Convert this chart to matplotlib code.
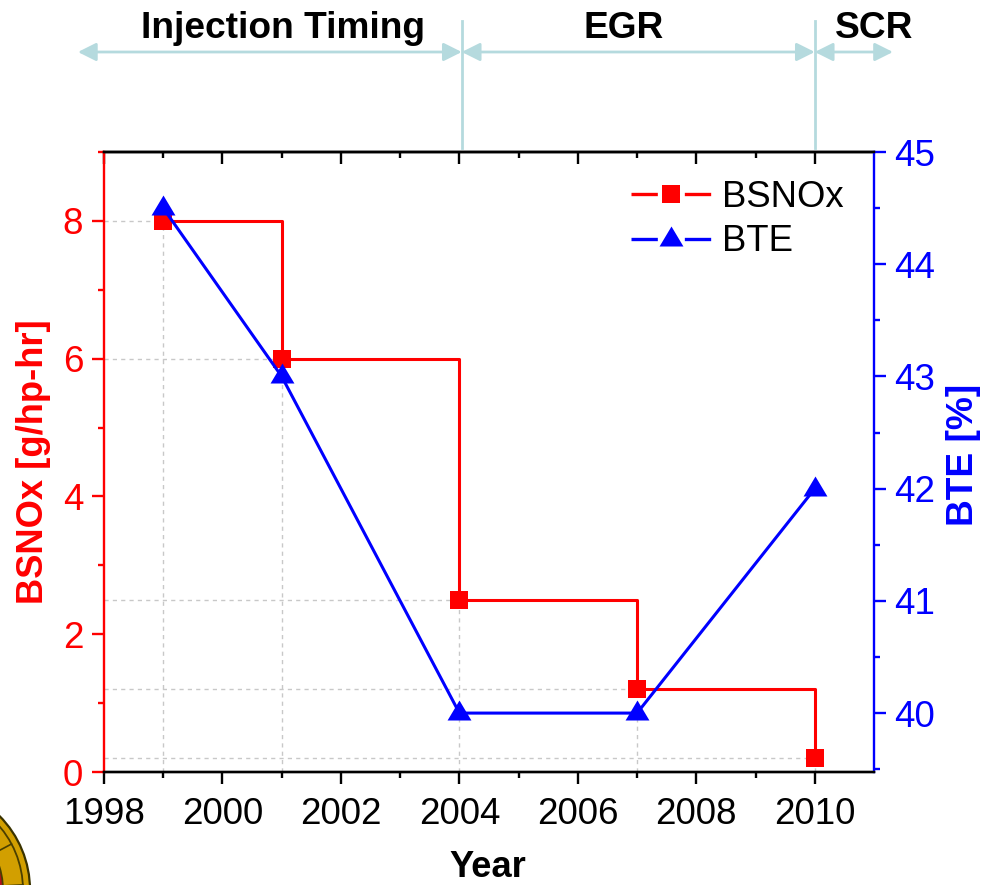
import numpy as np
import matplotlib
matplotlib.use("Agg")
import matplotlib.pyplot as plt
from matplotlib.patches import Circle
from matplotlib.transforms import blended_transform_factory

plt.rcParams['font.family'] = ['Liberation Sans', 'DejaVu Sans']

years = [1999, 2001, 2004, 2007, 2010]
bsnox = [8, 6, 2.5, 1.2, 0.2]
bte = [44.5, 43, 40, 40, 42]
phase_names = ['Injection Timing', 'EGR', 'SCR']
phase_label_x = [2001.02, 2006.78, 2011.0]
phase_edges = [1997.56, 2004.04, 2010.0, 2011.32]
x_ticks = [1998, 2000, 2002, 2004, 2006, 2008, 2010]
x_minor = [1999, 2001, 2003, 2005, 2007, 2009]
left_ticks = [0, 2, 4, 6, 8]
left_minor = [1, 3, 5, 7, 9]
right_ticks = [40, 41, 42, 43, 44, 45]
right_minor = [39.5, 40.5, 41.5, 42.5, 43.5, 44.5]

W, H = 981, 885
fig = plt.figure(figsize=(W / 100, H / 100), dpi=100)
ax = fig.add_axes([104 / W, 1 - 772 / H, 770 / W, 620 / H])
ax2 = ax.twinx()
ax.set_xlim(1998, 2011)
ax.set_ylim(0, 8.985)
ax2.set_ylim(39.475, 45)

RED, BLUE, GLINE, PALE = '#ff0000', '#0000ff', '#c8c8c8', '#b5dade'
TRI = [(-0.92, -0.54), (0.92, -0.54), (0, 1)]
FS = 26.5

# drop lines
for x, y in zip(years, bsnox):
    ax.plot([1998, x], [y, y], color=GLINE, lw=1, ls=(0, (3, 3)), zorder=1)
    ax.plot([x, x], [0, y], color=GLINE, lw=1, ls=(0, (3, 3)), zorder=1)

ax.step(years, bsnox, where='post', color=RED, lw=2.2, zorder=3)
ax.plot(years, bsnox, ls='none', marker='s', ms=12.3, mew=0, color=RED, zorder=4, clip_on=False)
ax2.plot(years, bte, color=BLUE, lw=2.2, marker=TRI, ms=18.7, mew=0, zorder=5, clip_on=False)
ax.set_zorder(2)
ax2.set_zorder(3)
ax2.patch.set_visible(False)

# spines
for s in ('left', 'right', 'top', 'bottom'):
    ax.spines[s].set_linewidth(1.7)
    ax2.spines[s].set_linewidth(1.7)
ax.spines['left'].set_color(RED)
ax2.spines['left'].set_visible(False)
ax.spines['right'].set_visible(False)
ax2.spines['right'].set_color(BLUE)

ax.set_xticks(x_ticks)
ax.set_xticks(x_minor, minor=True)
ax.tick_params(axis='x', which='major', length=8.5, width=1.7, labelsize=FS, pad=9.5, color='black')
ax.tick_params(axis='x', which='minor', length=4.5, width=1.7, color='black')
top = ax.secondary_xaxis('top')
top.set_xticks(x_ticks)
top.set_xticks(x_minor, minor=True)
top.tick_params(axis='x', which='major', direction='in', length=8.5, width=1.7, labelsize=0, labeltop=False)
top.tick_params(axis='x', which='minor', direction='in', length=4.5, width=1.7)
top.spines['top'].set_linewidth(1.7)

ax.set_yticks(left_ticks)
ax.set_yticks(left_minor, minor=True)
ax.tick_params(axis='y', which='major', length=8.5, width=1.7, colors=RED, labelsize=FS, pad=6.5)
ax.tick_params(axis='y', which='minor', length=4.5, width=1.7, colors=RED)
ax2.set_yticks(right_ticks)
ax2.set_yticks(right_minor, minor=True)
ax2.tick_params(axis='y', which='major', length=8.5, width=1.7, colors=BLUE, labelsize=FS, pad=5.8)
ax2.tick_params(axis='y', which='minor', length=4.5, width=1.7, colors=BLUE)

ax.set_xlabel('Year', fontsize=26.2, fontweight='bold', va='center')
ax.xaxis.set_label_coords(0.499, -0.154)
ax.set_ylabel('BSNOx [g/hp-hr]', fontsize=26.2, fontweight='bold', color=RED, va='center')
ax.yaxis.set_label_coords(-0.092, 0.5)
ax2.set_ylabel('BTE [%]', fontsize=26.7, fontweight='bold', color=BLUE, va='center')
ax2.yaxis.set_label_coords(1.1165, 0.511)

# legend
broken = (0, (7.9, 8.1))
hl = [plt.Line2D([], [], color=RED, lw=2.4, ls=broken, marker='s', ms=12.3, mew=0),
      plt.Line2D([], [], color=BLUE, lw=2.4, ls=broken, marker=TRI, ms=18.7, mew=0)]
ax2.legend(hl, ['BSNOx', 'BTE'], loc='upper right', bbox_to_anchor=(0.98, 0.979), frameon=False,
           fontsize=26.3, handlelength=2.2, handletextpad=0.3, labelspacing=0.27, borderaxespad=0)

# phase annotation above the axes
tr = blended_transform_factory(ax.transData, fig.transFigure)
arrow_y = 1 - 52 / H
label_y = 1 - 29 / H
for name, lx, a, b in zip(phase_names, phase_label_x, phase_edges[:-1], phase_edges[1:]):
    ax.annotate('', xy=(b, arrow_y), xytext=(a, arrow_y), xycoords=tr, textcoords=tr,
                arrowprops=dict(arrowstyle='<|-|>,head_length=1.1,head_width=0.55', color=PALE,
                                lw=2, shrinkA=0, shrinkB=0), annotation_clip=False)
    ax.text(lx, label_y, name, transform=tr, ha='center', va='center',
            fontsize=26.7, fontweight='bold', color='black', clip_on=False)
for edge in phase_edges[1:3]:
    ax.plot([edge, edge], [1 - 148 / H, 1 - 21 / H], transform=tr, color=PALE, lw=2, clip_on=False)

# clipped emblem in the lower-left corner
bg = fig.add_axes([0, 0, 1, 1], zorder=-1)
bg.set_xlim(0, W)
bg.set_ylim(H, 0)
bg.axis('off')
bg.add_patch(Circle((-75, 890), 105, fc='#d29f00', ec='#3a3300', lw=1.6))
bg.add_patch(Circle((-75, 890), 98, fc='none', ec='#4a3f00', lw=1.3))
bg.add_patch(Circle((-75, 890), 78, fc='#b01020', ec='#4a3f00', lw=1.3))
for deg in (-3, -28):
    t = np.radians(deg)
    bg.plot([-75 + 78 * np.cos(t), -75 + 98 * np.cos(t)],
            [890 + 78 * np.sin(t), 890 + 98 * np.sin(t)], color='#4a3f00', lw=1.2)
fig.savefig('out.png', dpi=100)
